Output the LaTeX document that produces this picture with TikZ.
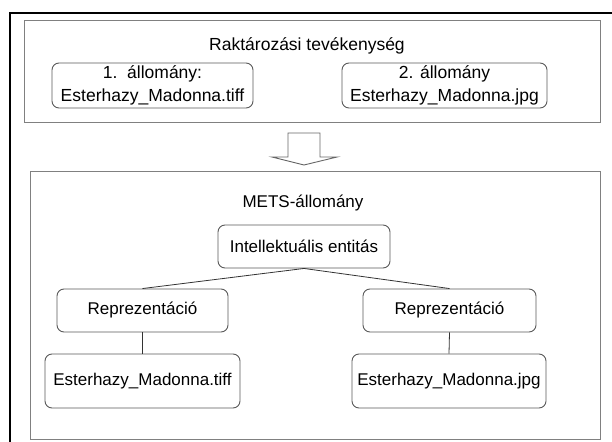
\documentclass[tikz,border=0pt]{standalone}
\usepackage{fontspec}
\setmainfont{Liberation Sans}
\begin{document}
\begin{tikzpicture}[x=1pt,y=-1pt,
  bigbox/.style={draw=black!50, line width=0.9pt, inner sep=0pt},
  rbox/.style={draw=black!65, line width=0.9pt, rounded corners=7pt, inner sep=0pt, align=center,
    font=\fontsize{17}{23}\selectfont},
  lbl/.style={inner sep=0pt, font=\fontsize{17}{23}\selectfont},
  conn/.style={draw=black!80, line width=0.8pt}]
\useasboundingbox (0,0) rectangle (612,441);
% outer frame (top and left)
\draw[line width=2.6pt, line cap=rect] (10,441) -- (10,13) -- (612,13);
% top box
\node[bigbox, minimum width=576pt, minimum height=102pt] (top) at (312,71) {};
\node[lbl, font=\fontsize{17.5}{23}\selectfont] (title) at (307,46) {Raktározási tevékenység};
\node[rbox, minimum width=201pt, minimum height=45pt, font=\fontsize{17.5}{23}\selectfont] (f1) at (152.5,85.5) {1.\ \ állomány:\\Esterhazy\_Madonna.tiff};
\node[rbox, minimum width=205pt, minimum height=45pt, font=\fontsize{17.5}{23}\selectfont] (f2) at (444.5,85.5) {2. állomány\\Esterhazy\_Madonna.jpg};
% block arrow
\coordinate (a1) at (288,133);
\coordinate (a2) at (320,133);
\coordinate (tip) at (304,165);
\draw[draw=black!60, line width=0.9pt, line join=miter]
  (a1) -- (a2) -- (320,157) -- (337,157) -- (tip) -- (272,157) -- (288,157) -- cycle;
% bottom box
\node[bigbox, minimum width=570pt, minimum height=268pt] (bot) at (315,305) {};
\node[lbl] (mets) at (303,203) {METS-állomány};
\node[rbox, minimum width=172pt, minimum height=43pt] (intel) at (304,246.5) {Intellektuális entitás};
\node[rbox, minimum width=171pt, minimum height=43pt] (repL) at (142.5,310.5) {Reprezentáció};
\node[rbox, minimum width=173pt, minimum height=43pt] (repR) at (449.5,310.5) {Reprezentáció};
\node[rbox, minimum width=195pt, minimum height=54pt] (tiffB) at (142.5,381) {Esterhazy\_Madonna.tiff};
\node[rbox, minimum width=194pt, minimum height=54pt] (jpgB) at (449,381) {Esterhazy\_Madonna.jpg};
\draw[conn] (intel.south) -- (repL.north);
\draw[conn] (intel.south) -- (repR.north);
\draw[conn] (repL.south) -- (tiffB.north);
\draw[conn] (repR.south) -- (jpgB.north);
\end{tikzpicture}
\end{document}
